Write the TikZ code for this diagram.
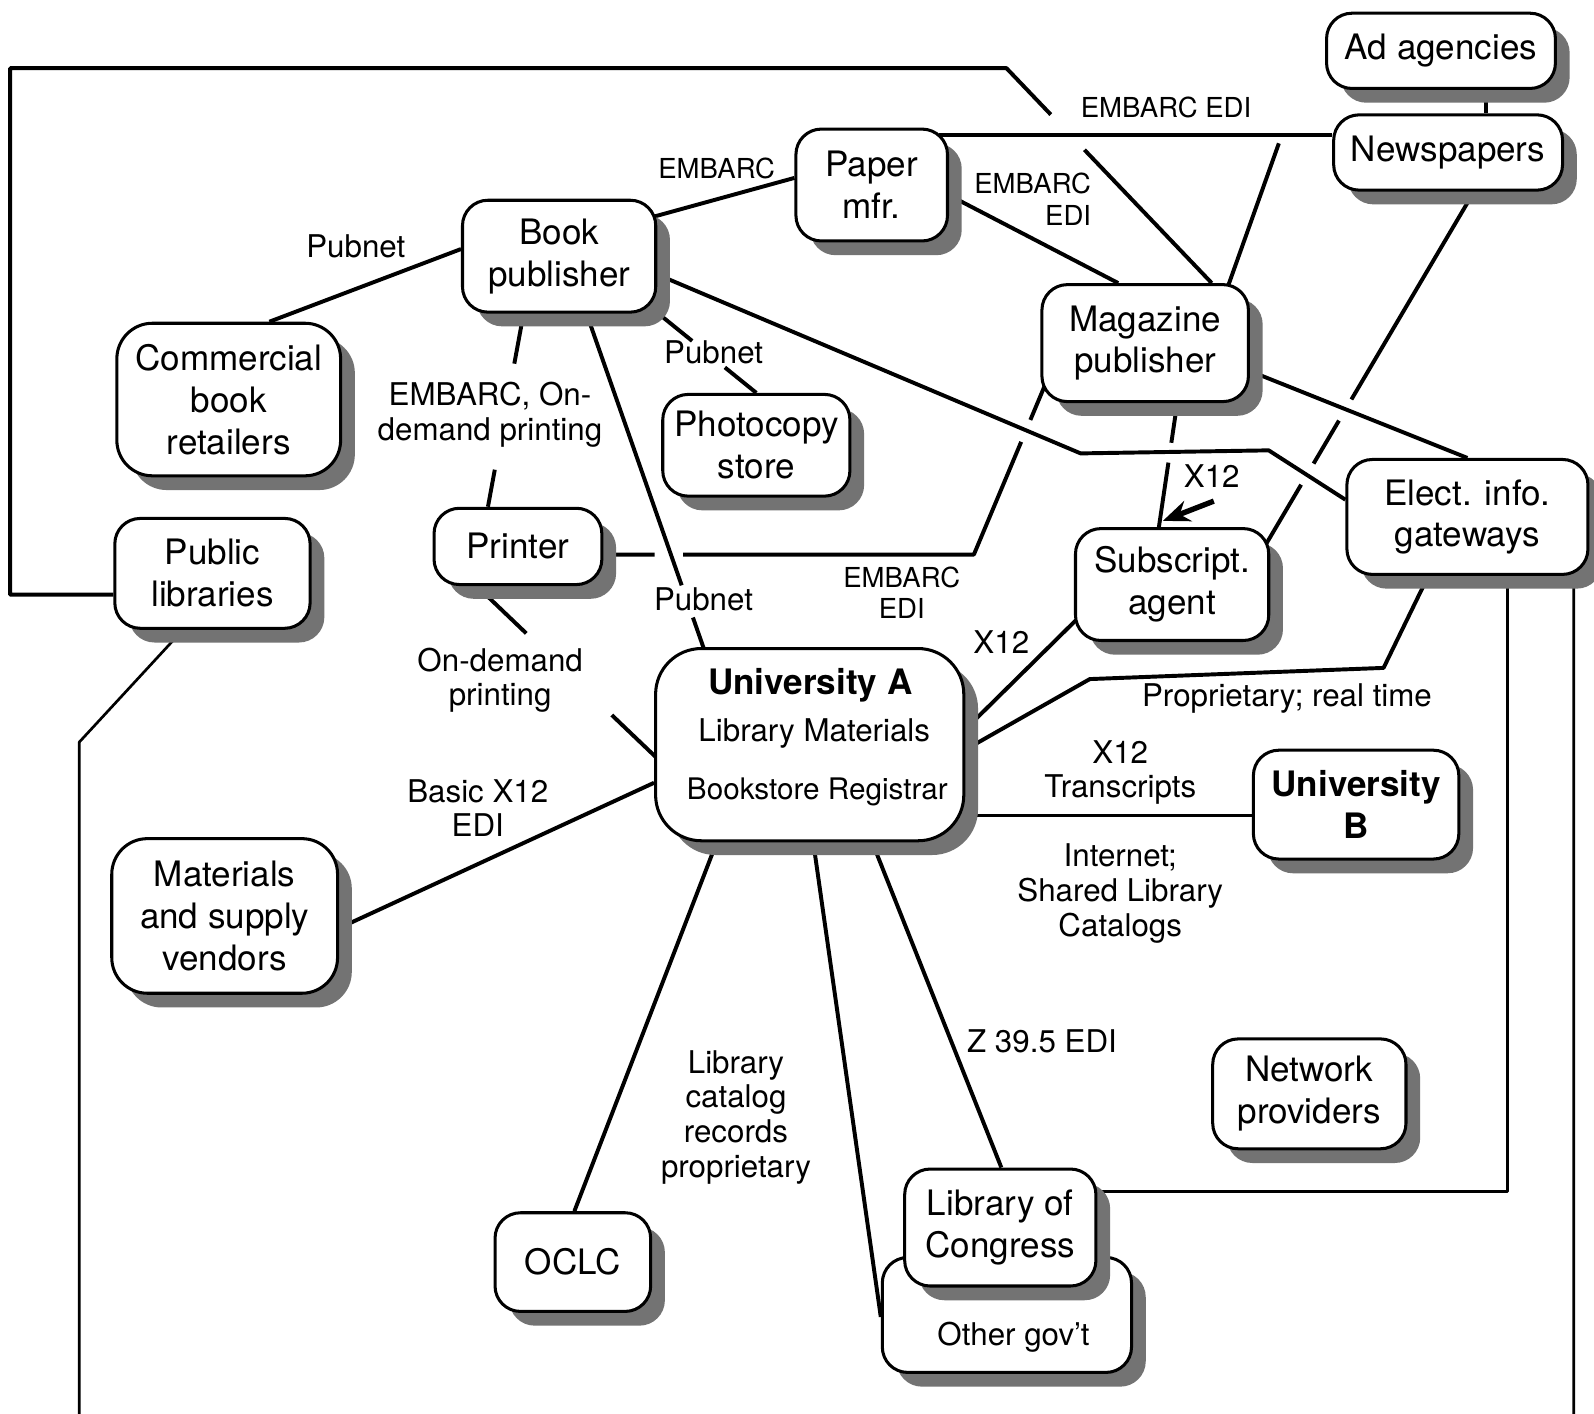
\documentclass[tikz,border=0pt]{standalone}
\usepackage{fontspec}
\setmainfont{TeX Gyre Heros}
\usetikzlibrary{calc,arrows.meta}

\pgfdeclarelayer{paper}
\pgfdeclarelayer{edges}
\pgfdeclarelayer{lower}
\pgfdeclarelayer{shadows}
\pgfsetlayers{paper,edges,lower,shadows,main}

\newcommand\boxfont{\fontsize{9.8}{11.7}\selectfont}
\newcommand\tagfont{\fontsize{8.76}{9.7}\selectfont}
\newcommand\tinytagfont{\fontsize{7.7}{8.9}\selectfont}

\tikzset{
  entity/.style={draw, line width=0.85pt, fill=white, rounded corners=0.25cm,
    inner sep=0pt, align=center, font=\boxfont},
  entityshadow/.style={fill=black!55, rounded corners=0.25cm, inner sep=0pt},
  wire/.style={line width=1.1pt, line join=round},
  thinwire/.style={line width=0.75pt, line join=round},
  edgelabel/.style={font=\tagfont, align=center, inner sep=0pt},
  smalllabel/.style={font=\tinytagfont, align=center, inner sep=0pt},
}

% box with a drop shadow: [options]{name}{x,y}{width}{height}{text}
\newcommand\entitybox[6][]{%
  \begin{pgfonlayer}{shadows}%
    \node[entityshadow,minimum width=#4,minimum height=#5,#1] at ($(#3)+(14,14)$) {};%
  \end{pgfonlayer}%
  \node[entity,minimum width=#4,minimum height=#5,#1] (#2) at (#3) {#6};%
}

\begin{document}
\begin{tikzpicture}[x=0.01cm,y=-0.01cm]
\useasboundingbox (0,0) rectangle (1568,1390);
\begin{pgfonlayer}{paper}
  \fill[white] (0,0) rectangle (1568,1390);
\end{pgfonlayer}

% ---------- boxes ----------
\entitybox{ad}{1417.5,50}{2.25cm}{0.74cm}{Ad agencies}
\entitybox{np}{1424.5,150}{2.25cm}{0.74cm}{Newspapers}
\entitybox{pm}{857.5,182}{1.49cm}{1.10cm}{Paper\\mfr.}
\entitybox{bp}{550,252}{1.90cm}{1.10cm}{Book\\publisher}
\entitybox{mp}{1126.5,337.5}{2.03cm}{1.15cm}{Magazine\\publisher}
\entitybox[rounded corners=0.35cm]{cb}{225,393}{2.20cm}{1.50cm}{Commercial\\book\\retailers}
\entitybox{ph}{744,438}{1.84cm}{1.00cm}{Photocopy\\store}
\entitybox{pr}{509.5,537.5}{1.65cm}{0.75cm}{Printer}
\entitybox{pl}{209,564}{1.92cm}{1.08cm}{Public\\libraries}
\entitybox{sa}{1153,575}{1.90cm}{1.10cm}{Subscript.\\agent}
\entitybox{eg}{1443.5,508.5}{2.37cm}{1.13cm}{Elect. info.\\gateways}
\entitybox[rounded corners=0.45cm]{ua}{796.5,732.5}{3.03cm}{1.89cm}{}
\entitybox[font=\boxfont\bfseries]{ub}{1334,791.5}{2.02cm}{1.07cm}{University\\B}
\entitybox[rounded corners=0.35cm]{mv}{221,901}{2.22cm}{1.52cm}{Materials\\and supply\\vendors}
\entitybox{nw}{1288,1076}{1.90cm}{1.08cm}{Network\\providers}
\entitybox{oc}{563.5,1241.5}{1.53cm}{0.97cm}{OCLC}

% "Other gov't" sits behind "Library of Congress"
\begin{pgfonlayer}{lower}
  \node[entityshadow, minimum width=2.45cm, minimum height=1.13cm] at (1004.5,1307.5) {};
  \node[entity, minimum width=2.45cm, minimum height=1.13cm] (og) at (990.5,1293.5) {};
  \node[edgelabel] at ($(og.center)+(6.5,21.5)$) {Other gov’t};
\end{pgfonlayer}
\entitybox{lc}{984,1207.5}{1.88cm}{1.15cm}{Library of\\Congress}

% University A contents
\node[anchor=base, font=\boxfont\bfseries] at ($(ua.north)+(0.5,47)$) {University A};
\node[anchor=base, font=\tagfont] at ($(ua.north)+(4.5,93)$) {Library Materials};
\node[anchor=base, font=\fontsize{8.3}{9.7}\selectfont] at ($(ua.north)+(7.5,150)$) {Bookstore Registrar};

% ---------- labels ----------
\node[edgelabel] at (350,242) {Pubnet};
\node[smalllabel] at (705,166) {EMBARC};
\node[smalllabel] at (1147,106) {EMBARC EDI};
\node[smalllabel, align=right, anchor=east] at (1074,196) {EMBARC\\EDI};
\node[edgelabel] at (702,347) {Pubnet};
\node[edgelabel] at (482,408) {EMBARC, On-\\demand printing};
\node[edgelabel] (lblx12) at (1192,468) {X12};
\node[smalllabel] at (887,583) {EMBARC\\EDI};
\node[edgelabel] at (692,590) {Pubnet};
\node[edgelabel] at (985,632) {X12};
\node[edgelabel] at (492,669) {On-demand\\printing};
\node[edgelabel] at (1266,687) {Proprietary; real time};
\node[edgelabel] at (470,795) {Basic X12\\EDI};
\node[edgelabel] at (1102,760) {X12\\Transcripts};
\node[edgelabel] at (1102,879) {Internet;\\Shared Library\\Catalogs};
\node[edgelabel] at (1025,1024) {Z 39.5 EDI};
\node[edgelabel] at (724,1099) {Library\\catalog\\records\\proprietary};

% ---------- connectors ----------
\begin{pgfonlayer}{edges}
\begin{scope}
\clip (0,0) rectangle (1568,1390);

% named end points used by broken lines
\coordinate (bpS1) at ($(bp.south)+(27,0)$);
\coordinate (uaN1) at ($(ua.north)+(-104,2)$);
\coordinate (bpS2) at ($(bp.south)+(-35,0)$);
\coordinate (prN)  at ($(pr.north)+(-29.5,0)$);
\coordinate (prS)  at ($(pr.south)+(-40.5,0)$);
\coordinate (uaW1) at ($(ua.west)+(2,12.5)$);
\coordinate (bpSE) at ($(bp.south east)+(-5,-5)$);
\coordinate (mpS)  at ($(mp.south)+(31.5,0)$);
\coordinate (saN)  at ($(sa.north)+(-13,0)$);
\coordinate (npS)  at ($(np.south)+(25.5,0)$);
\coordinate (saNE) at ($(sa.east)+(-4,-40)$);
\coordinate (topbend) at (990,67);
\coordinate (mpN1) at ($(mp.north)+(65.5,0)$);
\coordinate (prbend) at (958,545.5);
\coordinate (mpW)  at ($(mp.west)+(4,42.5)$);
\coordinate (npjoin) at (1258,141);
\coordinate (x12tip) at ($(mpS)!0.95!(saN)$);

% Book publisher
\draw[wire] ($(bp.west)+(0,-7)$) -- ($(cb.north)+(40,0)$);
\draw[wire] ($(bp.east)+(-3,-39)$) -- ($(pm.west)+(0,-7)$);
\draw[wire] (bpS1) -- ($(bpS1)!0.81!(uaN1)$) ($(bpS1)!0.906!(uaN1)$) -- (uaN1);
\draw[wire] (bpS2) -- ($(bpS2)!0.259!(prN)$) ($(bpS2)!0.808!(prN)$) -- (prN);
\draw[wire] (bpSE) -- ($(bpSE)!0.384!(ph.north)$) ($(bpSE)!0.698!(ph.north)$) -- (ph.north);
\draw[wire] ($(bp.east)+(0,18)$) -- (1063,446) -- (1248,443) -- ($(eg.west)+(0,-17)$);

% Paper manufacturer
\draw[wire] ($(pm.east)+(-10,-49)$) -- ($(np.west)+(0,-17)$);
\draw[wire] ($(pm.east)+(0,10)$) -- ($(mp.north)+(-26.5,0)$);

% Newspapers and magazine publisher
\draw[wire] ($(ad.south)+(44.5,0)$) -- ($(np.north)+(37.5,0)$);
\draw[wire] ($(mp.north)+(81.5,3)$) -- (npjoin);
\draw[wire] (npS) -- ($(npS)!0.59!(saNE)$) ($(npS)!0.65!(saNE)$) -- ($(npS)!0.772!(saNE)$)
            ($(npS)!0.832!(saNE)$) -- (saNE);
\draw[wire] ($(mp.east)+(0,27.5)$) -- (eg.north);
\draw[wire] (mpS) -- ($(mpS)!0.32!(saN)$) ($(mpS)!0.48!(saN)$) -- (saN);
\draw[line width=1.5pt, -{Stealth[length=7.5pt,width=6pt]}] ($(lblx12.south)+(2,13)$) -- ($(x12tip)+(3,0)$);

% Public libraries, around the top
\draw[wire] ($(pl.west)+(0,21)$) -- (10,585) -- (10,67) -- (topbend)
            -- ($(topbend)!0.216!(mpN1)$) ($(topbend)!0.38!(mpN1)$) -- (mpN1);

% Printer
\draw[wire] ($(pr.east)+(0,8)$) -- (644,545.5) (672,545.5) -- (prbend)
            -- ($(prbend)!0.67!(mpW)$) ($(prbend)!0.80!(mpW)$) -- (mpW);
\draw[wire] (prS) -- ($(prS)!0.276!(uaW1)$) ($(prS)!0.753!(uaW1)$) -- (uaW1);

% University A
\draw[wire] ($(eg.south)+(-38.5,0)$) -- (1361,657) -- (1072,668) -- ($(ua.east)+(0,5)$);
\draw[wire] ($(sa.west)+(2,35)$) -- ($(ua.east)+(0,-15)$);
\draw[wire] ($(mv.east)+(0,12)$) -- ($(ua.west)+(0,37.5)$);
\draw[thinwire] ($(ua.east)+(0,69.5)$) -- ($(ub.west)+(0,10.5)$);
\draw[wire] ($(ua.south)+(-91.5,0)$) -- ($(oc.north)+(1.5,0)$);
\draw[wire] ($(ua.south)+(3.5,0)$) -- ($(og.west)+(0,2)$);
\draw[wire] ($(ua.south)+(61.5,0)$) -- ($(lc.north)+(1,0)$);

% Gateways
\draw[thinwire] ($(eg.south)+(39.5,0)$) -- (1483,1172) -- ($(lc.east)+(0,-35.5)$);
\draw[thinwire] ($(eg.south)+(104.5,-4)$) -- (1548,1420) -- (78,1420) -- (78,730)
                -- ($(pl.south)+(-29,0)$);
\end{scope}
\end{pgfonlayer}
\end{tikzpicture}
\end{document}
